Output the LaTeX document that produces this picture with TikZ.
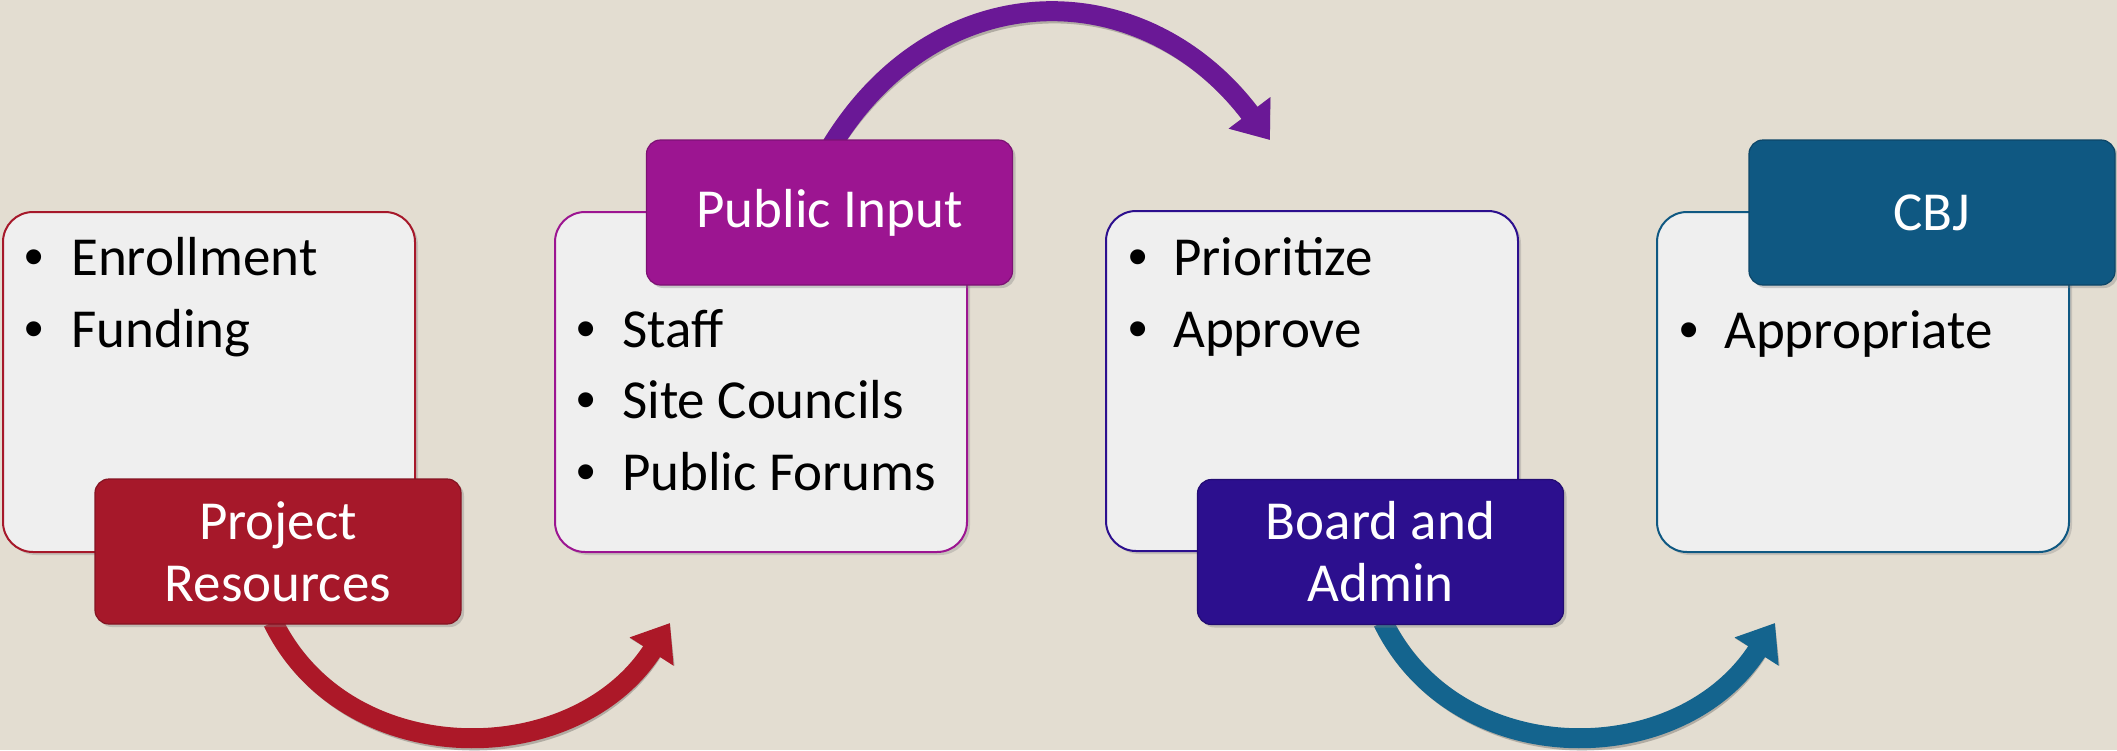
\documentclass[tikz,border=0pt]{standalone}
\usepackage{fontspec}
\setmainfont{Carlito}
\newfontfamily\bulfont{Liberation Sans}
\usetikzlibrary{arrows.meta,shadows}
\definecolor{bg}{RGB}{227,221,209}
\definecolor{boxfill}{RGB}{239,239,239}
\definecolor{cred}{RGB}{166,24,42}
\definecolor{cpurple}{RGB}{156,21,145}
\definecolor{cindigo}{RGB}{44,15,142}
\definecolor{cteal}{RGB}{15,88,130}
\definecolor{ared}{RGB}{172,24,40}
\definecolor{apurple}{RGB}{106,24,150}
\definecolor{ateal}{RGB}{20,100,142}
\tikzset{
  panel/.style={draw=#1, line width=2pt, fill=boxfill, rounded corners=30pt,
    minimum width=412pt, minimum height=340pt, inner sep=0pt,
    drop shadow={shadow xshift=3pt, shadow yshift=-3pt, opacity=0.3}},
  tag/.style={draw=#1!80!black, line width=1.2pt, fill=#1, rounded corners=14pt,
    minimum width=366pt, minimum height=145pt, inner sep=0pt, text=white,
    align=center, font=\fontsize{55}{62}\selectfont,
    drop shadow={shadow xshift=3pt, shadow yshift=-3pt, opacity=0.35}},
  bul/.style={anchor=base, inner sep=0pt, font=\fontsize{55}{62}\bulfont},
  itemtext/.style={anchor=base west, inner sep=0pt, font=\fontsize{55}{62}\selectfont},
  flow/.style={draw=#1, line width=20pt, -{Triangle[length=34pt,width=50pt]}},
  flowshadow/.style={draw=black, opacity=0.22, line width=20pt,
    -{Triangle[length=34pt,width=50pt]}, xshift=3pt, yshift=-3pt},
}
\begin{document}
\begin{tikzpicture}[x=1pt,y=-1pt]
\path[use as bounding box, fill=bg] (0,0) rectangle (2117,750);

% arrow anchor coordinates
\coordinate (a1s) at (273,622);
\coordinate (a1e) at (670,623);
\coordinate (a2s) at (832,145);
\coordinate (a2e) at (1270,140);
\coordinate (a3s) at (1383,622);
\coordinate (a3e) at (1775,623);

% arrow shadows
\draw[flowshadow] (a1s) .. controls (346,772) and (574,772) .. (a1e);
\draw[flowshadow] (a2s) .. controls (938,-28) and (1143,-28) .. (a2e);
\draw[flowshadow] (a3s) .. controls (1456,772) and (1679,772) .. (a3e);

% arrows (behind the boxes)
\draw[flow=ared] (a1s) .. controls (346,772) and (574,772) .. (a1e);
\draw[flow=apurple] (a2s) .. controls (938,-28) and (1143,-28) .. (a2e);
\draw[flow=ateal] (a3s) .. controls (1456,772) and (1679,772) .. (a3e);

% panels
\node[panel=cred]    (b1) at (209,382) {};
\node[panel=cpurple] (b2) at (761,382) {};
\node[panel=cindigo] (b3) at (1312,381) {};
\node[panel=cteal]   (b4) at (1863,382) {};

% panel 1 items
\node[bul] (p1d1) at (34,275) {•};
\node[itemtext] (p1t1) at (71,275) {Enrollment};
\node[bul] (p1d2) at (34,347) {•};
\node[itemtext] (p1t2) at (71,347) {Funding};

% panel 2 items
\node[bul] (p2d1) at (586,347) {•};
\node[itemtext] (p2t1) at (622,347) {Sta{}ff};
\node[bul] (p2d2) at (586,418) {•};
\node[itemtext] (p2t2) at (622,418) {Site Councils};
\node[bul] (p2d3) at (586,490) {•};
\node[itemtext] (p2t3) at (622,490) {Public Forums};

% panel 3 items
\node[bul] (p3d1) at (1138,275) {•};
\node[itemtext] (p3t1) at (1173,275) {Prioritize};
\node[bul] (p3d2) at (1138,347) {•};
\node[itemtext] (p3t2) at (1173,347) {Approve};

% panel 4 items
\node[bul] (p4d1) at (1689,348) {•};
\node[itemtext] (p4t1) at (1724,348) {Appropriate};

% tags
\node[tag=cred]    (l1) at (278,551.5) {Project\\Resources};
\node[tag=cpurple] (l2) at (829.5,212.5) {Public Input};
\node[tag=cindigo] (l3) at (1380.5,552) {Board and\\Admin};
\node[tag=cteal]   (l4) at (1932,212.5) {CBJ};
\end{tikzpicture}
\end{document}
